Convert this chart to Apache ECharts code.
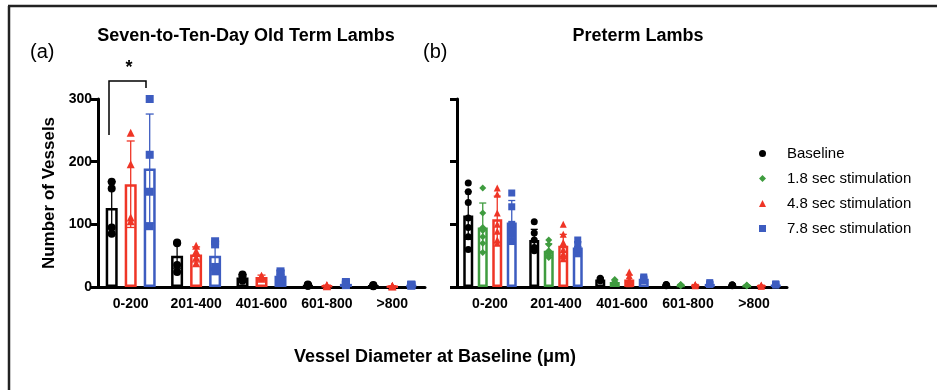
<!DOCTYPE html>
<html>
<head>
<meta charset="utf-8">
<title>Vessels</title>
<script src="https://cdn.jsdelivr.net/npm/echarts@6/dist/echarts.min.js"></script>
<style>
  html, body { margin: 0; padding: 0; background: #fff; }
  #main { width: 937px; height: 390px; }
</style>
</head>
<body>
<div id="main"></div>
<script>
var cats = ['0-200', '201-400', '401-600', '601-800', '>800'];
var yTicks = [0, 100, 200, 300];

// (a) term lambs
var termBaseMean = [126, 50, 15, 3, 2];
var termBaseSD   = [42, 20, 5, 2, 1];
var termBasePts  = [[168, 157, 95, 85], [71, 70, 35, 24], [20, 17, 12, 10], [4, 3, 2, 2], [3, 2, 2, 1]];
var term48Mean = [164, 52, 16, 2, 1];
var term48SD   = [69, 12, 3, 1, 1];
var term48Pts  = [[246, 196, 111, 105], [66, 57, 47, 38], [18, 17, 15, 13], [3, 2, 2, 1], [2, 1, 1, 1]];
var term78Mean = [189, 50, 18, 5, 3];
var term78SD   = [87, 23, 8, 3, 2];
var term78Pts  = [[300, 211, 152, 97], [73, 68, 32, 25], [25, 22, 14, 9], [8, 6, 4, 3], [4, 3, 3, 2]];

// (b) preterm lambs
var preBaseMean = [114, 75, 12, 3, 3];
var preBaseSD   = [38, 17, 3, 1, 1];
var preBasePts  = [[166, 152, 135, 110, 95, 80, 60], [104, 86, 75, 63, 58, 62], [14, 12, 10, 11], [4, 3, 3, 2], [3, 3, 2, 3]];
var pre18Mean = [95, 58, 8, 3, 2];
var pre18SD   = [39, 11, 3, 1, 1];
var pre18Pts  = [[158, 118, 95, 80, 70, 55, 90], [75, 68, 58, 53, 47, 50], [12, 8, 6, 7], [4, 3, 3, 2], [3, 2, 2, 2]];
var pre48Mean = [108, 66, 12, 3, 2];
var pre48SD   = [37, 18, 7, 1, 1];
var pre48Pts  = [[158, 148, 118, 100, 89, 70, 75], [100, 84, 71, 60, 53, 45, 50], [24, 18, 12, 8, 6, 5], [4, 3, 3, 2], [3, 2, 2, 1]];
var pre78Mean = [103, 63, 13, 5, 4];
var pre78SD   = [35, 9, 3, 2, 1];
var pre78Pts  = [[150, 128, 95, 84, 74, 90, 100], [75, 68, 60, 53, 60], [16, 14, 10, 12], [7, 5, 4, 4], [5, 4, 4, 3]];

var names = ['Baseline', '1.8 sec stimulation', '4.8 sec stimulation', '7.8 sec stimulation'];
var colors = {'Baseline': '#000000', '1.8 sec stimulation': '#3f9c3f', '4.8 sec stimulation': '#ef3526', '7.8 sec stimulation': '#3d5cc0'};
var symbols = {'Baseline': 'circle', '1.8 sec stimulation': 'diamond', '4.8 sec stimulation': 'triangle', '7.8 sec stimulation': 'rect'};

var FONT = '"Liberation Sans", Arial, Helvetica, sans-serif';

var panels = [
  {barW: 12, step: 19, cap: 8, sym: 8, groups: [
    {name: names[0], mean: termBaseMean, sd: termBaseSD, pts: termBasePts},
    {name: names[2], mean: term48Mean, sd: term48SD, pts: term48Pts},
    {name: names[3], mean: term78Mean, sd: term78SD, pts: term78Pts}
  ]},
  {barW: 10, step: 14.5, cap: 7, sym: 7, groups: [
    {name: names[0], mean: preBaseMean, sd: preBaseSD, pts: preBasePts},
    {name: names[1], mean: pre18Mean, sd: pre18SD, pts: pre18Pts},
    {name: names[2], mean: pre48Mean, sd: pre48SD, pts: pre48Pts},
    {name: names[3], mean: pre78Mean, sd: pre78SD, pts: pre78Pts}
  ]}
];

var scatterSeries = [], barSeries = [], errSeries = [];
panels.forEach(function (p, pi) {
  var n = p.groups.length;
  p.groups.forEach(function (g, k) {
    var off = (k - (n - 1) / 2) * p.step;
    var col = colors[g.name];
    var pts = [];
    g.pts.forEach(function (arr, ci) {
      arr.forEach(function (v) { pts.push([ci, v]); });
    });
    scatterSeries.push({
      name: g.name, type: 'scatter', xAxisIndex: pi, yAxisIndex: pi,
      symbol: symbols[g.name], symbolSize: p.sym, symbolOffset: [off, 0],
      itemStyle: {color: col, opacity: 1}, data: pts, z: 5, silent: true
    });
    barSeries.push({
      name: g.name, type: 'bar', xAxisIndex: pi, yAxisIndex: pi,
      barWidth: p.barW, barGap: ((p.step - p.barW) / p.barW * 100) + '%',
      itemStyle: {color: '#fff', borderColor: col, borderWidth: 2.5},
      data: g.mean, z: 2, silent: true
    });
    errSeries.push({
      name: g.name, type: 'custom', xAxisIndex: pi, yAxisIndex: pi, z: 3, silent: true,
      data: g.mean.map(function (m, ci) { return [ci, m, g.sd[ci]]; }),
      renderItem: function (params, api) {
        var x = api.value(0), m = api.value(1), s = api.value(2);
        var hi = api.coord([x, m + s]);
        var lo = api.coord([x, Math.max(0, m - s)]);
        var cx = hi[0] + off;
        var st = {stroke: col, lineWidth: 1.3};
        return {type: 'group', children: [
          {type: 'line', shape: {x1: cx, y1: hi[1], x2: cx, y2: lo[1]}, style: st},
          {type: 'line', shape: {x1: cx - p.cap / 2, y1: hi[1], x2: cx + p.cap / 2, y2: hi[1]}, style: st},
          {type: 'line', shape: {x1: cx - p.cap / 2, y1: lo[1], x2: cx + p.cap / 2, y2: lo[1]}, style: st}
        ]};
      }
    });
  });
});

function xAxisOf(gi) {
  return {
    type: 'category', gridIndex: gi, data: cats,
    axisLine: {lineStyle: {color: '#000', width: 3}},
    axisTick: {alignWithLabel: true, length: 7, lineStyle: {color: '#000', width: 3}},
    axisLabel: {color: '#000', fontWeight: 'bold', fontSize: 14, fontFamily: FONT, margin: 10, interval: 0}
  };
}
function yAxisOf(gi, showLabels) {
  return {
    type: 'value', gridIndex: gi, min: yTicks[0], max: yTicks[yTicks.length - 1], interval: 100,
    splitLine: {show: false},
    axisLine: {show: true, lineStyle: {color: '#000', width: 3}},
    axisTick: {show: true, length: 7, lineStyle: {color: '#000', width: 3}},
    axisLabel: {show: showLabels, color: '#000', fontWeight: 'bold', fontSize: 14, fontFamily: FONT, margin: 6},
    name: showLabels ? 'Number of Vessels' : '', nameLocation: 'middle', nameGap: 40,
    nameTextStyle: {color: '#000', fontWeight: 'bold', fontSize: 17, fontFamily: FONT}
  };
}

var chart = echarts.init(document.getElementById('main'));
chart.setOption({
  animation: false,
  backgroundColor: '#fff',
  grid: [
    {left: 98, top: 99, width: 327, height: 188},
    {left: 457, top: 99, width: 330, height: 188}
  ],
  xAxis: [xAxisOf(0), xAxisOf(1)],
  yAxis: [yAxisOf(0, true), yAxisOf(1, false)],
  legend: {
    orient: 'vertical', left: 754, top: 141, itemGap: 10,
    itemWidth: 7, itemHeight: 7, selectedMode: false,
    textStyle: {color: '#000', fontSize: 15, fontFamily: FONT, lineHeight: 15, padding: [0, 0, 0, 16]},
    data: names.map(function (nm) { return {name: nm, icon: symbols[nm]}; })
  },
  series: scatterSeries.concat(barSeries, errSeries),
  graphic: [
    {type: 'line', shape: {x1: 8, y1: 6, x2: 937, y2: 6}, style: {stroke: '#222', lineWidth: 2.5}},
    {type: 'line', shape: {x1: 9, y1: 6, x2: 9, y2: 390}, style: {stroke: '#222', lineWidth: 2.5}},
    {type: 'text', x: 246, y: 36, style: {text: 'Seven-to-Ten-Day Old Term Lambs', align: 'center', verticalAlign: 'middle', font: 'bold 18px ' + FONT, fill: '#000'}},
    {type: 'text', x: 638, y: 36, style: {text: 'Preterm Lambs', align: 'center', verticalAlign: 'middle', font: 'bold 18px ' + FONT, fill: '#000'}},
    {type: 'text', x: 30, y: 52, style: {text: '(a)', verticalAlign: 'middle', font: '20px ' + FONT, fill: '#000'}},
    {type: 'text', x: 423, y: 52, style: {text: '(b)', verticalAlign: 'middle', font: '20px ' + FONT, fill: '#000'}},
    {type: 'text', x: 129, y: 68, style: {text: '*', align: 'center', verticalAlign: 'middle', font: 'bold 18px ' + FONT, fill: '#000'}},
    {type: 'polyline', shape: {points: [[109, 135], [109, 81], [146, 81], [146, 88]]}, style: {stroke: '#000', lineWidth: 1.5, fill: null}},
    {type: 'text', x: 435, y: 357, style: {text: 'Vessel Diameter at Baseline (\u03bcm)', align: 'center', verticalAlign: 'middle', font: 'bold 18px ' + FONT, fill: '#000'}}
  ]
});
</script>
</body>
</html>
